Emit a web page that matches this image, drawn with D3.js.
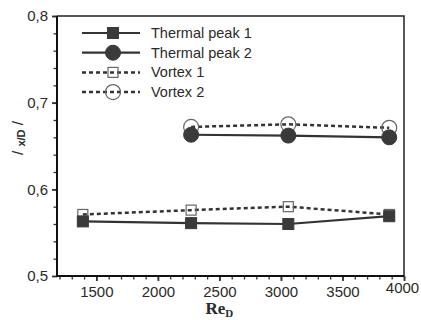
<!DOCTYPE html>
<html>
<head>
<meta charset="utf-8">
<script src="https://cdn.jsdelivr.net/npm/d3@7"></script>
<style>
  body { margin: 0; background: #fff; }
  svg { display: block; font-family: "Liberation Sans", Arial, sans-serif; }
</style>
</head>
<body>
<svg width="421" height="320"></svg>
<script>
// data
const reThermal1 = [1390, 2270, 3060, 3880];
const thermal1 = [0.563, 0.561, 0.560, 0.569];
const reThermal2 = [2270, 3060, 3880];
const thermal2 = [0.663, 0.662, 0.660];
const reVortex1 = [1390, 2270, 3060, 3880];
const vortex1 = [0.571, 0.576, 0.580, 0.571];
const reVortex2 = [2270, 3060, 3880];
const vortex2 = [0.672, 0.675, 0.671];

const xTicks = [1500, 2000, 2500, 3000, 3500, 4000];
const yTicks = [0.5, 0.6, 0.7, 0.8];
const legendLabels = ["Thermal peak 1", "Thermal peak 2", "Vortex 1", "Vortex 2"];

const INK = "#333";
const OPEN_INK = "#666";
const TEXT = "#2a2a2a";

let svg = d3.select("svg"),
  width = 421,
  height = 320;

const margin = { top: 16, right: 17, bottom: 44, left: 57 };
const pw = width - margin.left - margin.right,
  ph = height - margin.top - margin.bottom;

const x = d3.scaleLinear().domain([1180, 4000]).range([0, pw]);
const y = d3.scaleLinear().domain([0.5, 0.8]).range([ph, 0]);

const g = svg.append("g").attr("transform", `translate(${margin.left},${margin.top})`);

// series definitions (style only)
const series = [
  { name: legendLabels[0], xs: reThermal1, ys: thermal1, marker: "square", filled: true },
  { name: legendLabels[1], xs: reThermal2, ys: thermal2, marker: "circle", filled: true },
  { name: legendLabels[2], xs: reVortex1, ys: vortex1, marker: "square", filled: false },
  { name: legendLabels[3], xs: reVortex2, ys: vortex2, marker: "circle", filled: false },
];

//////////// AXES ////////////
const fmt = (d) => d3.format(".1f")(d).replace(".", ",");

// minor ticks
const xMinor = g.append("g")
  .attr("transform", `translate(0,${ph})`)
  .call(d3.axisBottom(x).tickValues(d3.range(1200, 4001, 100)).tickSize(3.5).tickFormat(() => ""));
xMinor.select(".domain").remove();
xMinor.selectAll("line").attr("stroke", INK).attr("stroke-width", 1.3);

const yMinor = g.append("g")
  .call(d3.axisLeft(y).tickValues(d3.range(0.52, 0.8, 0.02)).tickSize(3.5).tickFormat(() => ""));
yMinor.select(".domain").remove();
yMinor.selectAll("line").attr("stroke", INK).attr("stroke-width", 1.3);

// major ticks
const xAxis = g.append("g")
  .attr("transform", `translate(0,${ph})`)
  .call(d3.axisBottom(x).tickValues(xTicks).tickSize(5).tickPadding(5).tickFormat(d3.format("d")));
xAxis.select(".domain").remove();
xAxis.selectAll("line").attr("stroke", INK).attr("stroke-width", 1.8);
xAxis.selectAll("text")
  .attr("font-size", 15)
  .attr("fill", TEXT)
  .attr("font-family", "Liberation Sans, Arial, sans-serif")
  .attr("dx", (d) => (d === 4000 ? -2 : 0))
  .attr("dy", (d) => (d === 4000 ? "0.45em" : "0.71em"));

const yAxis = g.append("g")
  .call(d3.axisLeft(y).tickValues(yTicks).tickSize(5).tickPadding(4).tickFormat(fmt));
yAxis.select(".domain").remove();
yAxis.selectAll("line").attr("stroke", INK).attr("stroke-width", 1.8);
yAxis.selectAll("text")
  .attr("font-size", 15)
  .attr("fill", TEXT)
  .attr("font-family", "Liberation Sans, Arial, sans-serif");

// frame
g.append("path")
  .attr("d", `M0,0H${pw}V${ph}`)
  .attr("fill", "none")
  .attr("stroke", "#222")
  .attr("stroke-width", 1.5);
g.append("path")
  .attr("d", `M0,0V${ph}H${pw}`)
  .attr("fill", "none")
  .attr("stroke", "#111")
  .attr("stroke-width", 2);

// axis titles
const xt = svg.append("text")
  .attr("x", margin.left + x(2500))
  .attr("y", 314)
  .attr("text-anchor", "middle")
  .attr("font-family", "Liberation Serif, Times New Roman, serif")
  .attr("font-weight", "bold")
  .attr("font-size", 17)
  .attr("fill", TEXT);
xt.append("tspan").text("Re");
xt.append("tspan").attr("font-size", 11).attr("dy", 3).text("D");

const yt = svg.append("text")
  .attr("transform", `translate(23,${margin.top + ph / 2 - 8}) rotate(-90)`)
  .attr("text-anchor", "middle")
  .attr("font-size", 15)
  .attr("fill", TEXT);
yt.append("tspan").text("/ ");
yt.append("tspan").attr("font-size", 11).attr("font-weight", "bold").attr("dy", 2).text("x/D");
yt.append("tspan").attr("dy", -2).text(" /");

//////////// MARKS ////////////
function drawMarker(sel, s) {
  if (s.marker === "square") {
    const size = s.filled ? 11 : 10;
    sel.append("rect")
      .attr("x", -size / 2).attr("y", -size / 2)
      .attr("width", size).attr("height", size)
      .attr("fill", s.filled ? "#3a3a3a" : "none")
      .attr("stroke", s.filled ? "#3a3a3a" : OPEN_INK)
      .attr("stroke-width", s.filled ? 1 : 1.2);
  } else {
    sel.append("circle")
      .attr("r", 7.5)
      .attr("fill", s.filled ? "#3a3a3a" : "none")
      .attr("stroke", s.filled ? "#3a3a3a" : OPEN_INK)
      .attr("stroke-width", s.filled ? 1 : 1.2);
  }
}

const line = d3.line().x((d) => x(d[0])).y((d) => y(d[1]));

// draw open (vortex) series first, filled (thermal) on top
[2, 3, 0, 1].forEach((i) => {
  const s = series[i];
  const pts = s.xs.map((v, k) => [v, s.ys[k]]);
  g.append("path")
    .datum(pts)
    .attr("d", line)
    .attr("fill", "none")
    .attr("stroke", INK)
    .attr("stroke-width", s.filled ? 2.2 : 2.5)
    .attr("stroke-dasharray", s.filled ? null : "4,3");
  g.selectAll(null)
    .data(pts)
    .enter()
    .append("g")
    .attr("transform", (d) => `translate(${x(d[0])},${y(d[1])})`)
    .each(function () { drawMarker(d3.select(this), s); });
});

//////////// LEGEND ////////////
const legend = svg.append("g").attr("transform", "translate(82,33)");
series.forEach((s, i) => {
  const row = legend.append("g").attr("transform", `translate(0,${i * 19.7})`);
  row.append("line")
    .attr("x1", 0).attr("x2", 58)
    .attr("stroke", INK)
    .attr("stroke-width", s.filled ? 2.2 : 2.5)
    .attr("stroke-dasharray", s.filled ? null : "4,3");
  drawMarker(row.append("g").attr("transform", "translate(31,0)"), s);
  row.append("text")
    .attr("x", 69)
    .attr("y", 5)
    .attr("font-size", 14.5)
    .attr("fill", TEXT)
    .text(s.name);
});
</script>
</body>
</html>
